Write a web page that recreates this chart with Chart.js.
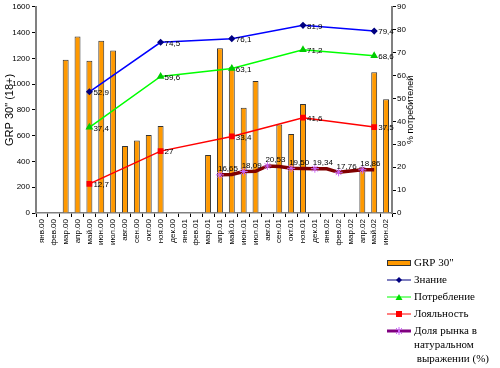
<!DOCTYPE html>
<html>
<head>
<meta charset="utf-8">
<script src="https://cdn.jsdelivr.net/npm/chart.js@4"></script>
<style>
  body { margin: 0; background: #fff; }
  #wrap { width: 500px; height: 368px; position: relative; }
</style>
</head>
<body>
<div id="wrap"><canvas id="chart"></canvas></div>
<script>
const months = ['янв.00','фев.00','мар.00','апр.00','май.00','июн.00','июл.00','авг.00','сен.00','окт.00','ноя.00','дек.00',
  'янв.01','фев.01','мар.01','апр.01','май.01','июн.01','июл.01','авг.01','сен.01','окт.01','ноя.01','дек.01',
  'янв.02','фев.02','мар.02','апр.02','май.02','июн.02'];

const grp = [null,null,1190,1370,1182,1337,1260,520,562,605,675,null,
  null,null,451,1278,1131,817,1025,null,686,613,845,null,
  null,null,null,358,1092,883];

const znanie = [null,null,null,null,52.9,null,null,null,null,null,74.5,null,
  null,null,null,null,76.1,null,null,null,null,null,81.9,null,
  null,null,null,null,79.4,null];

const potreb = [null,null,null,null,37.4,null,null,null,null,null,59.6,null,
  null,null,null,null,63.1,null,null,null,null,null,71.2,null,
  null,null,null,null,68.6,null];

const loyal = [null,null,null,null,12.7,null,null,null,null,null,27,null,
  null,null,null,null,33.4,null,null,null,null,null,41.6,null,
  null,null,null,null,37.5,null];

const share = [null,null,null,null,null,null,null,null,null,null,null,null,
  null,null,null,16.65,16.8,18.09,18.2,20.53,20.3,19.50,19.4,19.34,
  19.3,17.76,18.3,18.86,18.9,null];

const leftTicks = { min: 0, max: 1600, step: 200 };
const rightTicks = { min: 0, max: 90, step: 10 };

const FONT = 'Liberation Sans';
const SERIF = 'Liberation Serif';

// only every other month of the share line has a marker
const shareMarked = (i) => i % 2 === 1;

const pointLabels = {
  id: 'pointLabels',
  afterDatasetsDraw(chart) {
    const ctx = chart.ctx;
    ctx.save();
    ctx.font = '8px "' + FONT + '"';
    ctx.fillStyle = '#000';
    chart.data.datasets.forEach((ds, i) => {
      if (ds.type !== 'line') return;
      const meta = chart.getDatasetMeta(i);
      meta.data.forEach((pt, j) => {
        const v = ds.data[j];
        if (v == null) return;
        if (ds.label.startsWith('Доля')) {
          if (!shareMarked(j)) return;
          ctx.textAlign = 'left';
          ctx.textBaseline = 'bottom';
          ctx.fillText(v.toFixed(2).replace('.', ','), pt.x - 2, pt.y - 2);
        } else {
          ctx.textAlign = 'left';
          ctx.textBaseline = 'middle';
          ctx.fillText(String(v).replace('.', ','), pt.x + 4, pt.y + 1);
        }
      });
    });
    ctx.restore();
  }
};

const extras = {
  id: 'extras',
  afterDraw(chart) {
    const ctx = chart.ctx;
    const a = chart.chartArea;
    ctx.save();
    // right axis title, reading bottom to top
    ctx.translate(411, (a.top + a.bottom) / 2);
    ctx.rotate(-Math.PI / 2);
    ctx.font = '9px "' + FONT + '"';
    ctx.fillStyle = '#000';
    ctx.textAlign = 'center';
    ctx.textBaseline = 'middle';
    ctx.fillText('% потребителей', 0, 0);
    ctx.restore();

    // legend
    ctx.save();
    const x0 = 387, x1 = 411, tx = 414;
    ctx.font = '11px "' + SERIF + '"';
    ctx.textBaseline = 'middle';
    ctx.textAlign = 'left';
    ctx.fillStyle = '#000';

    ctx.fillStyle = '#FF9900';
    ctx.fillRect(x0, 260, x1 - x0, 6);
    ctx.strokeStyle = '#333';
    ctx.lineWidth = 1;
    ctx.strokeRect(x0 + 0.5, 260.5, x1 - x0 - 1, 5);
    ctx.fillStyle = '#000';
    ctx.fillText('GRP 30"', tx, 263);

    const line = (y, color, w) => {
      ctx.strokeStyle = color; ctx.lineWidth = w;
      ctx.beginPath(); ctx.moveTo(x0, y); ctx.lineTo(x1, y); ctx.stroke();
    };
    const cx = (x0 + x1) / 2;

    line(280, '#000080', 1);
    ctx.fillStyle = '#000080';
    ctx.beginPath(); ctx.moveTo(cx, 277); ctx.lineTo(cx + 3, 280); ctx.lineTo(cx, 283); ctx.lineTo(cx - 3, 280); ctx.closePath(); ctx.fill();
    ctx.fillStyle = '#000';
    ctx.fillText('Знание', tx, 280);

    line(297, '#00FF00', 1);
    ctx.fillStyle = '#00DD00';
    ctx.beginPath(); ctx.moveTo(cx, 294); ctx.lineTo(cx + 3.5, 300); ctx.lineTo(cx - 3.5, 300); ctx.closePath(); ctx.fill();
    ctx.fillStyle = '#000';
    ctx.fillText('Потребление', tx, 297);

    line(314, '#FF0000', 1);
    ctx.fillStyle = '#FF0000';
    ctx.fillRect(cx - 3, 311, 6, 6);
    ctx.fillStyle = '#000';
    ctx.fillText('Лояльность', tx, 314);

    line(331, '#800080', 3);
    ctx.strokeStyle = '#CC66FF'; ctx.lineWidth = 1;
    ctx.beginPath();
    ctx.moveTo(cx - 3, 328); ctx.lineTo(cx + 3, 334);
    ctx.moveTo(cx + 3, 328); ctx.lineTo(cx - 3, 334);
    ctx.moveTo(cx, 327); ctx.lineTo(cx, 335);
    ctx.stroke();
    ctx.fillStyle = '#000';
    ctx.fillText('Доля рынка в', tx, 331);
    ctx.fillText('натуральном', tx, 345);
    ctx.fillText(' выражении (%)', tx, 359);
    ctx.restore();
  }
};

new Chart(document.getElementById('chart'), {
  data: {
    labels: months,
    datasets: [
      {
        type: 'bar', label: 'GRP 30"', data: grp, yAxisID: 'y', order: 10,
        backgroundColor: '#FF9900', borderColor: '#333', borderWidth: 1,
        barPercentage: 0.5, categoryPercentage: 1
      },
      {
        type: 'line', label: 'Знание', data: znanie, yAxisID: 'y1', order: 1, spanGaps: true,
        borderColor: '#0000FF', borderWidth: 1.5, pointStyle: 'rectRot', pointRadius: 2.5,
        pointBackgroundColor: '#000080', pointBorderColor: '#000080'
      },
      {
        type: 'line', label: 'Потребление', data: potreb, yAxisID: 'y1', order: 2, spanGaps: true,
        borderColor: '#00FF00', borderWidth: 1.5, pointStyle: 'triangle', pointRadius: 3,
        pointBackgroundColor: '#00CC00', pointBorderColor: '#00CC00'
      },
      {
        type: 'line', label: 'Лояльность', data: loyal, yAxisID: 'y1', order: 3, spanGaps: true,
        borderColor: '#FF0000', borderWidth: 1.5, pointStyle: 'rect', pointRadius: 3,
        pointBackgroundColor: '#FF0000', pointBorderColor: '#FF0000'
      },
      {
        type: 'line', label: 'Доля рынка в натуральном выражении (%)', data: share, yAxisID: 'y1', order: 0,
        borderColor: '#800000', borderWidth: 3.5, pointStyle: 'star',
        pointRadius: (c) => shareMarked(c.dataIndex) ? 4 : 0,
        pointBorderColor: '#CC66FF', pointBorderWidth: 1, pointBackgroundColor: '#CC66FF'
      }
    ]
  },
  options: {
    responsive: true,
    maintainAspectRatio: false,
    animation: false,
    layout: { padding: { top: 6, right: 78, bottom: 0, left: 0 } },
    plugins: {
      legend: { display: false },
      tooltip: { enabled: false }
    },
    scales: {
      x: {
        offset: true,
        grid: { offset: true, drawOnChartArea: false, tickLength: 4, color: '#000' },
        border: { color: '#808080', width: 1.5 },
        ticks: { autoSkip: false, maxRotation: 90, minRotation: 90, padding: 2, color: '#000',
          font: { family: FONT, size: 8 } },
        afterFit: (s) => { s.height = 155; }
      },
      y: {
        position: 'left',
        min: leftTicks.min, max: leftTicks.max,
        grid: { drawOnChartArea: false, tickLength: 4, color: '#000' },
        border: { color: '#808080', width: 2 },
        ticks: { stepSize: leftTicks.step, padding: 2, color: '#000', font: { family: FONT, size: 8 },
          callback: (v) => String(v) },
        title: { display: true, text: 'GRP 30" (18+)', color: '#000', padding: { top: 3, bottom: 0 },
          font: { family: FONT, size: 11 } },
        afterFit: (s) => { s.width = 36; }
      },
      y1: {
        position: 'right',
        min: rightTicks.min, max: rightTicks.max,
        grid: { drawOnChartArea: false, tickLength: 4, color: '#000' },
        border: { color: '#808080', width: 2 },
        ticks: { stepSize: rightTicks.step, padding: 1, color: '#000', font: { family: FONT, size: 8 },
          callback: (v) => String(v) },
        afterFit: (s) => { s.width = 30; }
      }
    }
  },
  plugins: [pointLabels, extras]
});
</script>
</body>
</html>
